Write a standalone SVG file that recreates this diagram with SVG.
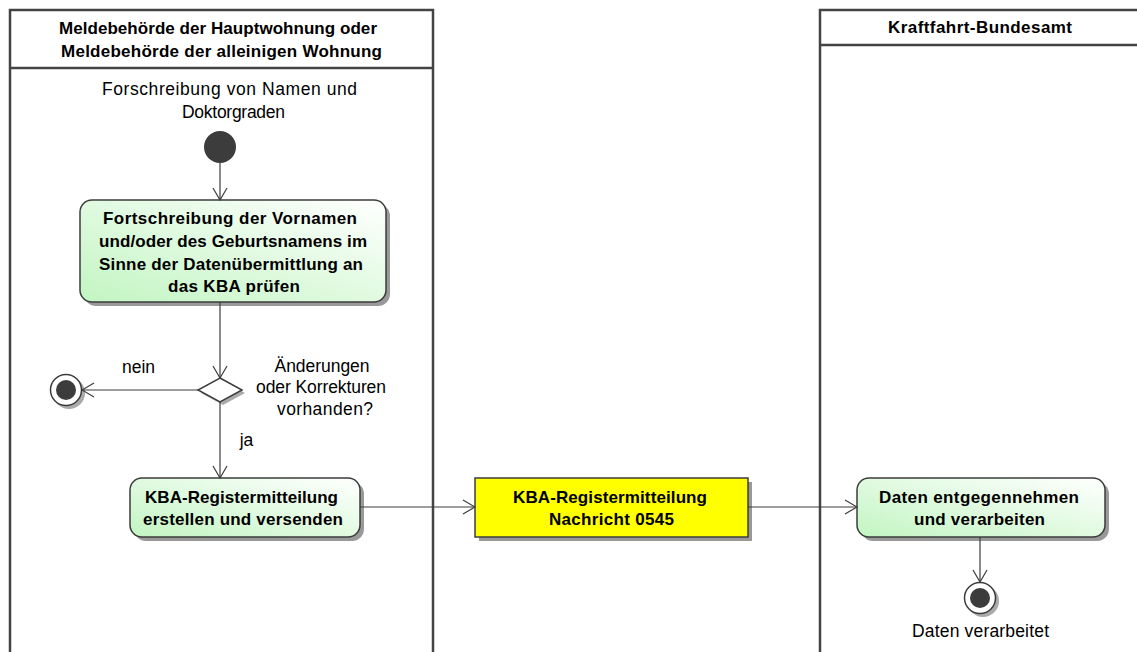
<svg xmlns="http://www.w3.org/2000/svg" width="1137" height="652" viewBox="0 0 1137 652">
<defs>
<linearGradient id="g" x1="0" y1="1" x2="1" y2="0">
<stop offset="0" stop-color="#c2f5c2"/>
<stop offset="1" stop-color="#ffffff"/>
</linearGradient>
<marker id="a" viewBox="0 0 14 16" refX="13" refY="8" markerWidth="14" markerHeight="16" markerUnits="userSpaceOnUse" orient="auto">
<path d="M1,1 L13,8 L1,15" fill="none" stroke="#3c3c3c" stroke-width="1.2"/>
</marker>
</defs>
<style>
.lane{fill:none;stroke:#444;stroke-width:2.5}
.b{font-family:"Liberation Sans",Arial,sans-serif;font-weight:bold;font-size:17px;fill:#000;text-anchor:middle}
.t{font-family:"Liberation Sans",Arial,sans-serif;font-size:17.5px;fill:#000;text-anchor:middle}
.act{fill:url(#g);stroke:#3c3c3c;stroke-width:1.5}
.sh{fill:#999}
.c{fill:none;stroke:#3c3c3c;stroke-width:1.2;marker-end:url(#a)}
</style>
<rect width="1137" height="652" fill="#fff"/>
<g id="lane1">
<path class="lane" d="M10,652 V10 H433 V652 M10,68 H433"/>
<text class="b" x="218" y="34" textLength="318" lengthAdjust="spacing">Meldebehörde der Hauptwohnung oder</text>
<text class="b" x="221.5" y="57" textLength="321" lengthAdjust="spacing">Meldebehörde der alleinigen Wohnung</text>
</g>
<g id="lane2">
<path class="lane" d="M820,652 V10 H1140 M820,45 H1140"/>
<text class="b" x="980" y="33" textLength="184" lengthAdjust="spacing">Kraftfahrt-Bundesamt</text>
</g>
<g id="start">
<text class="t" x="229.5" y="95" textLength="255" lengthAdjust="spacing">Forschreibung von Namen und</text>
<text class="t" x="233.5" y="118" textLength="103" lengthAdjust="spacing">Doktorgraden</text>
<circle cx="220" cy="147" r="16" fill="#3c3c3c"/>
</g>
<g id="act1">
<rect class="sh" x="84" y="204" width="306" height="102" rx="12"/>
<rect class="act" x="80" y="200" width="306" height="102" rx="12"/>
<text class="b" x="230" y="224" textLength="254" lengthAdjust="spacing">Fortschreibung der Vornamen</text>
<text class="b" x="233" y="247" textLength="268" lengthAdjust="spacing">und/oder des Geburtsnamens im</text>
<text class="b" x="231" y="270" textLength="264" lengthAdjust="spacing">Sinne der Datenübermittlung an</text>
<text class="b" x="234" y="292" textLength="132" lengthAdjust="spacing">das KBA prüfen</text>
</g>
<g id="decision">
<polygon points="223,381 245,393 223,405 201,393" fill="#aaa"/>
<polygon points="220,378 242,390 220,402 198,390" fill="#fff" stroke="#3c3c3c" stroke-width="1.5"/>
<text class="t" x="322" y="372" textLength="95" lengthAdjust="spacing">Änderungen</text>
<text class="t" x="321" y="393" textLength="130" lengthAdjust="spacing">oder Korrekturen</text>
<text class="t" x="325" y="415" textLength="96" lengthAdjust="spacing">vorhanden?</text>
</g>
<g id="end1">
<circle cx="69" cy="393" r="16" fill="#aaa"/>
<circle cx="66" cy="390" r="15.5" fill="#fff" stroke="#3c3c3c" stroke-width="1.5"/>
<circle cx="66" cy="390" r="10" fill="#3c3c3c"/>
</g>
<g id="act2">
<rect class="sh" x="134" y="482" width="230" height="59" rx="12"/>
<rect class="act" x="130" y="478" width="230" height="59" rx="12"/>
<text class="b" x="241.5" y="503" textLength="193" lengthAdjust="spacing">KBA-Registermitteilung</text>
<text class="b" x="243" y="525" textLength="200" lengthAdjust="spacing">erstellen und versenden</text>
</g>
<g id="msg">
<rect class="sh" x="479" y="482" width="273" height="59"/>
<rect x="475" y="478" width="273" height="59" fill="#ffff00" stroke="#3c3c3c" stroke-width="1.5"/>
<text class="b" x="610" y="503" textLength="194" lengthAdjust="spacing">KBA-Registermitteilung</text>
<text class="b" x="611.5" y="525" textLength="125" lengthAdjust="spacing">Nachricht 0545</text>
</g>
<g id="act3">
<rect class="sh" x="861" y="482" width="248" height="59" rx="12"/>
<rect class="act" x="857" y="478" width="248" height="59" rx="12"/>
<text class="b" x="979" y="503" textLength="200" lengthAdjust="spacing">Daten entgegennehmen</text>
<text class="b" x="979.5" y="525" textLength="131" lengthAdjust="spacing">und verarbeiten</text>
</g>
<g id="end2">
<circle cx="983" cy="601" r="16" fill="#aaa"/>
<circle cx="980" cy="598" r="15.5" fill="#fff" stroke="#3c3c3c" stroke-width="1.5"/>
<circle cx="980" cy="598" r="10" fill="#3c3c3c"/>
<text class="t" x="980.5" y="637" textLength="137" lengthAdjust="spacing">Daten verarbeitet</text>
</g>
<g id="connectors">
<line class="c" x1="220" y1="163" x2="220" y2="200"/>
<line class="c" x1="220" y1="302" x2="220" y2="378"/>
<line class="c" x1="198" y1="390" x2="82" y2="390"/>
<text class="t" x="138.5" y="373" textLength="33" lengthAdjust="spacing">nein</text>
<line class="c" x1="220" y1="402" x2="220" y2="478"/>
<text class="t" x="246.5" y="446">ja</text>
<line class="c" x1="360" y1="507" x2="475" y2="507"/>
<line class="c" x1="748" y1="507" x2="857" y2="507"/>
<line class="c" x1="980" y1="537" x2="980" y2="582"/>
</g>
</svg>
